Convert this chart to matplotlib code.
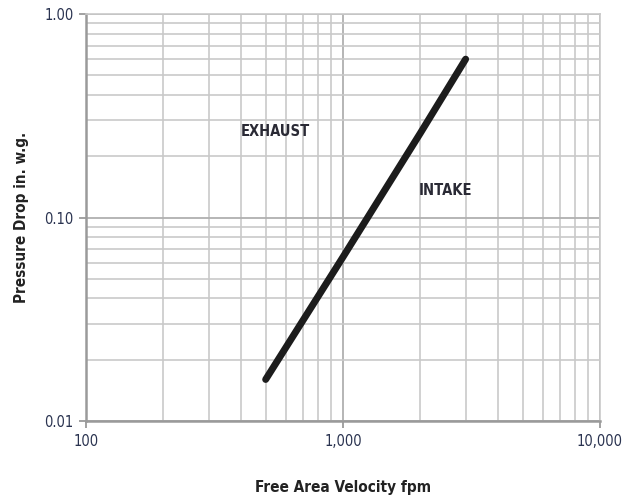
import matplotlib

matplotlib.use("Agg")
import matplotlib.pyplot as plt  # noqa: E402
from matplotlib.ticker import FixedLocator, NullFormatter  # noqa: E402

# free area velocity (fpm) vs. pressure drop (in. w.g.)
velocity = [500, 1000, 2000, 3000]
pressure = [0.016, 0.064, 0.26, 0.60]

x_ticks = [100, 1000, 10000]
x_tick_labels = ["100", "1,000", "10,000"]
y_ticks = [0.01, 0.1, 1.0]
y_tick_labels = ["0.01", "0.10", "1.00"]

region_labels = ["EXHAUST", "INTAKE"]
region_pos = [(545, 0.265), (2500, 0.135)]

# narrow face, closest thing to the condensed sans of the original
plt.rcParams["font.family"] = ["DejaVu Sans"]
plt.rcParams["font.stretch"] = "condensed"

GRID = "#c9c9c9"
SPINE = "#9a9a9a"
TICK_TXT = "#2a3350"

fig = plt.figure(figsize=(6.33, 4.98), dpi=100)
ax = fig.add_axes([0.1359, 0.1546, 0.812, 0.8173])

ax.set_xscale("log")
ax.set_yscale("log")
ax.set_xlim(100, 10000)
ax.set_ylim(0.01, 1.0)

minor_x = [m * d for d in (100, 1000) for m in range(2, 10)]
minor_y = [m * d for d in (0.01, 0.1) for m in range(2, 10)]
ax.xaxis.set_major_locator(FixedLocator(x_ticks))
ax.xaxis.set_minor_locator(FixedLocator(minor_x))
ax.yaxis.set_major_locator(FixedLocator(y_ticks))
ax.yaxis.set_minor_locator(FixedLocator(minor_y))
ax.set_xticklabels(x_tick_labels)
ax.set_yticklabels(y_tick_labels)
ax.xaxis.set_minor_formatter(NullFormatter())
ax.yaxis.set_minor_formatter(NullFormatter())

ax.grid(which="major", color="#b0b0b0", linewidth=1.3)
ax.grid(which="minor", color=GRID, linewidth=1.2)
ax.set_axisbelow(True)

for side in ("left", "bottom"):
    ax.spines[side].set_color(SPINE)
    ax.spines[side].set_linewidth(1.8)
for side in ("top", "right"):
    ax.spines[side].set_color(GRID)
    ax.spines[side].set_linewidth(1.2)

ax.tick_params(which="major", direction="out", length=5, width=1.3,
               color=SPINE, labelsize=10.5, labelcolor=TICK_TXT, pad=4)
ax.tick_params(which="minor", length=0)

ax.plot(velocity, pressure, color="#1c1c1c", linewidth=5,
        solid_capstyle="round")

for label, (x, y) in zip(region_labels, region_pos):
    ax.text(x, y, label, ha="center", va="center", fontsize=10.5,
            fontweight="bold", color="#2a2a35")

ax.set_xlabel("Free Area Velocity fpm", fontsize=11, fontweight="bold",
              color="#222222", labelpad=23)
ax.set_ylabel("Pressure Drop in. w.g.", fontsize=11, fontweight="bold",
              color="#222222", labelpad=11)

fig.savefig("out.png", dpi=100)
